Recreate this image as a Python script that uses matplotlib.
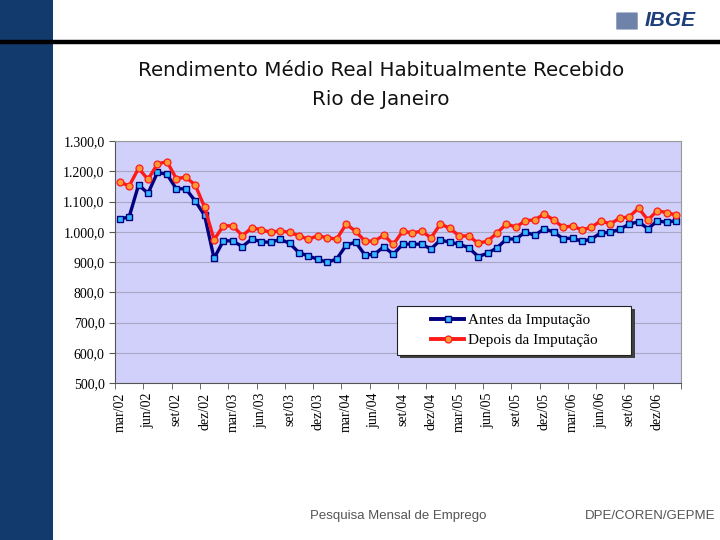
import numpy as np
import matplotlib
matplotlib.use('Agg')
import matplotlib.pyplot as plt
from matplotlib.patches import Rectangle, FancyBboxPatch
from matplotlib.lines import Line2D
from matplotlib.ticker import FuncFormatter, FixedLocator

# monthly series, mar/02 .. fev/07
antes = [1042, 1049, 1155, 1127, 1196, 1190, 1142, 1142, 1102, 1054, 912, 971,
         969, 951, 976, 967, 965, 975, 962, 931, 920, 909, 899, 910,
         955, 966, 923, 925, 951, 925, 959, 959, 959, 943, 973, 965,
         959, 947, 918, 929, 947, 976, 976, 999, 988, 1010, 999, 977,
         979, 968, 976, 996, 998, 1008, 1025, 1033, 1010, 1036, 1031, 1037]
depois = [1165, 1151, 1210, 1173, 1224, 1232, 1176, 1180, 1155, 1081, 974, 1020,
          1019, 987, 1013, 1007, 998, 1003, 998, 987, 975, 987, 980, 976,
          1025, 1002, 969, 969, 989, 958, 1002, 996, 1002, 980, 1026, 1011,
          986, 986, 962, 969, 996, 1026, 1015, 1037, 1039, 1059, 1039, 1015,
          1019, 1006, 1015, 1036, 1026, 1045, 1049, 1078, 1039, 1070, 1063, 1055]
tick_labels = ['mar/02', 'jun/02', 'set/02', 'dez/02', 'mar/03', 'jun/03', 'set/03', 'dez/03',
               'mar/04', 'jun/04', 'set/04', 'dez/04', 'mar/05', 'jun/05', 'set/05', 'dez/05',
               'mar/06', 'jun/06', 'set/06', 'dez/06']
series_names = ['Antes da Imputação', 'Depois da Imputação']

x = np.arange(len(antes))

fig = plt.figure(figsize=(7.2, 5.4), dpi=100)
fig.patch.set_facecolor('white')

# slide decorations
fig.add_artist(Rectangle((0, 0), 53 / 720, 1, transform=fig.transFigure,
                         facecolor='#123a6c', edgecolor='none', zorder=0))
fig.add_artist(Line2D([0, 1], [1 - 42 / 540] * 2, transform=fig.transFigure,
                      color='black', lw=3.2, zorder=1))
fig.add_artist(FancyBboxPatch((617 / 720, 1 - 29 / 540), 20 / 720, 16 / 540,
                              boxstyle='round,pad=0.001', transform=fig.transFigure,
                              facecolor='#6f83aa', edgecolor='none'))
fig.text(670 / 720, 1 - 21 / 540, 'IBGE', ha='center', va='center', fontsize=15,
         fontweight='bold', style='italic', color='#1f3f7c', family='Liberation Sans')

fig.text(381 / 720, 1 - 70 / 540, 'Rendimento Médio Real Habitualmente Recebido',
         ha='center', va='center', fontsize=14.3, color='#111111')
fig.text(381 / 720, 1 - 100 / 540, 'Rio de Janeiro',
         ha='center', va='center', fontsize=14.3, color='#111111')

fig.text(398 / 720, 1 - 516 / 540, 'Pesquisa Mensal de Emprego', ha='center', va='center',
         fontsize=9.5, color='#555555', family='Liberation Sans')
fig.text(650 / 720, 1 - 516 / 540, 'DPE/COREN/GEPME', ha='center', va='center',
         fontsize=9.5, color='#555555', family='Liberation Sans')

ax = fig.add_axes([115 / 720, 1 - 383 / 540, 566 / 720, 242 / 540])
ax.set_facecolor('#d0d0fa')

ax.plot(x, antes, color='#000080', lw=2.4, marker='s', markersize=5,
        markerfacecolor='#33bbff', markeredgecolor='#000080', markeredgewidth=1.0,
        label=series_names[0], zorder=3)
ax.plot(x, depois, color='#ff1a1a', lw=2.4, marker='o', markersize=5,
        markerfacecolor='#ff9933', markeredgecolor='#ff1a1a', markeredgewidth=0.9,
        label=series_names[1], zorder=4)

ax.set_xlim(-0.5, len(x) - 0.5)
ax.set_ylim(500, 1300)
ax.set_yticks(np.arange(500, 1301, 100))
ax.yaxis.set_major_formatter(FuncFormatter(
    lambda v, p: f'{v:,.1f}'.replace(',', 'X').replace('.', ',').replace('X', '.')))
ax.grid(axis='y', color='#a8a8c4', lw=0.8)
ax.set_axisbelow(True)

ax.set_xticks(x[::3])
ax.set_xticklabels(tick_labels, rotation=90, family='Liberation Serif', fontsize=10)
ax.tick_params(axis='x', which='major', length=0, pad=7)
ax.xaxis.set_minor_locator(FixedLocator(np.arange(-0.5, len(x), 3)))
ax.tick_params(axis='x', which='minor', length=4, color='#555555')
for lab in ax.get_yticklabels():
    lab.set_family('Liberation Serif')
ax.tick_params(axis='y', labelsize=10, length=4, color='#555555')

for side in ['top', 'right']:
    ax.spines[side].set_color('#999999')
for side in ['left', 'bottom']:
    ax.spines[side].set_color('#555555')

# legend box drawn separately so it can be wider than its entries
bx, by, bw, bh = 0.498, 0.116, 0.414, 0.202
ax.add_patch(Rectangle((bx + 0.006, by - 0.014), bw, bh, transform=ax.transAxes,
                       facecolor='#404040', edgecolor='none', zorder=5))
ax.add_patch(Rectangle((bx, by), bw, bh, transform=ax.transAxes,
                       facecolor='white', edgecolor='#222222', lw=0.8, zorder=6))
leg = ax.legend(loc='center', bbox_to_anchor=(bx + bw / 2, by + bh / 2), frameon=False,
                handlelength=2.2, prop={'family': 'Liberation Serif', 'size': 11},
                labelspacing=0.4, borderaxespad=0, borderpad=0, handletextpad=0.2)
leg.set_zorder(7)
for line in leg.get_lines():
    line.set_linewidth(2.8)

fig.savefig('out.png', dpi=100)
